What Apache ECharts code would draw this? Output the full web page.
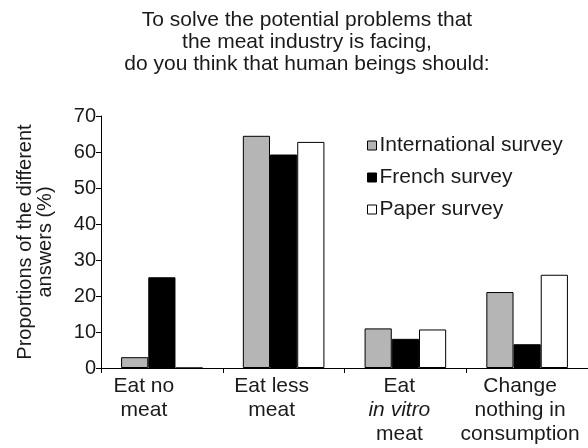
<!DOCTYPE html>
<html>
<head>
<meta charset="utf-8">
<script src="https://cdn.jsdelivr.net/npm/echarts@6/dist/echarts.min.js"></script>
<style>
  html, body { margin: 0; padding: 0; background: #fff; }
  #chart { width: 588px; height: 448px; }
</style>
</head>
<body>
<div id="chart"></div>
<script>
  // answers shown on the x axis
  var categories = ['Eat no\nmeat', 'Eat less\nmeat', 'Eat\nin vitro\nmeat', 'Change\nnothing in\nconsumption'];
  var seriesNames = ['International survey', 'French survey', 'Paper survey'];
  var international = [3, 64.5, 11, 21.1];
  var french = [25.2, 59.3, 8.1, 6.6];
  var paper = [0, 62.8, 10.7, 25.9];
  var yTicks = [0, 10, 20, 30, 40, 50, 60, 70];

  var fillColors = ['#b5b5b5', '#000000', '#ffffff'];
  var font = 'Liberation Sans, Arial, sans-serif';
  var textColor = '#1a1a1a';
  // the labels in the original sit a little left of the category centres
  var labelShift = [18, 12, 6, 7];

  var myChart = echarts.init(document.getElementById('chart'));

  function makeSeries(name, values, color) {
    return {
      name: name,
      type: 'bar',
      data: values,
      barGap: 0,
      barCategoryGap: '33%',
      itemStyle: {
        color: color,
        borderColor: '#000',
        borderWidth: 1
      },
      emphasis: { disabled: true }
    };
  }

  var rich = {};
  labelShift.forEach(function (s, k) {
    rich['n' + k] = { fontFamily: font, fontSize: 21, color: textColor, lineHeight: 24, padding: [0, 2 * s, 0, 0] };
    rich['i' + k] = { fontFamily: font, fontSize: 21, color: textColor, lineHeight: 24, padding: [0, 2 * s, 0, 0], fontStyle: 'italic' };
  });

  var option = {
    animation: false,
    textStyle: { fontFamily: font },
    title: {
      text: 'To solve the potential problems that\nthe meat industry is facing,\ndo you think that human beings should:',
      left: 302,
      textAlign: 'center',
      top: 4,
      textStyle: {
        fontFamily: font,
        fontSize: 21,
        fontWeight: 'normal',
        color: textColor,
        lineHeight: 22
      }
    },
    legend: {
      orient: 'vertical',
      left: 362,
      top: 130,
      itemWidth: 9,
      itemHeight: 9,
      itemGap: 11,
      icon: 'rect',
      data: seriesNames,
      textStyle: { fontFamily: font, fontSize: 21, color: textColor, padding: [0, 0, 0, -2] },
      itemStyle: { borderColor: '#000', borderWidth: 1 }
    },
    grid: {
      left: 101,
      right: 0,
      top: 116,
      bottom: 80,
      containLabel: false,
      outerBoundsMode: 'none'
    },
    xAxis: {
      type: 'category',
      data: categories,
      axisLine: { lineStyle: { color: '#000', width: 1 } },
      axisTick: { show: true, length: 5, lineStyle: { color: '#000' } },
      axisLabel: {
        interval: 0,
        margin: 6,
        color: textColor,
        fontFamily: font,
        fontSize: 21,
        lineHeight: 24,
        formatter: function (v, idx) {
          return v.split('\n').map(function (line) {
            var st = (line === 'in vitro' ? 'i' : 'n') + idx;
            return '{' + st + '|' + line + '}';
          }).join('\n');
        },
        rich: rich
      }
    },
    yAxis: {
      type: 'value',
      min: yTicks[0],
      max: yTicks[yTicks.length - 1],
      interval: 10,
      name: 'Proportions of the different\nanswers (%)',
      nameLocation: 'middle',
      nameRotate: 90,
      nameGap: 46,
      nameTextStyle: { fontFamily: font, fontSize: 20, color: textColor, lineHeight: 20 },
      axisLine: { show: true, lineStyle: { color: '#000', width: 1 } },
      axisTick: { show: true, length: 5, lineStyle: { color: '#000' } },
      splitLine: { show: false },
      axisLabel: { color: textColor, fontFamily: font, fontSize: 20, margin: 5 }
    },
    series: [
      makeSeries(seriesNames[0], international, fillColors[0]),
      makeSeries(seriesNames[1], french, fillColors[1]),
      makeSeries(seriesNames[2], paper, fillColors[2])
    ]
  };

  myChart.setOption(option);
  window.addEventListener('resize', () => { myChart.resize(); });
</script>
</body>
</html>
